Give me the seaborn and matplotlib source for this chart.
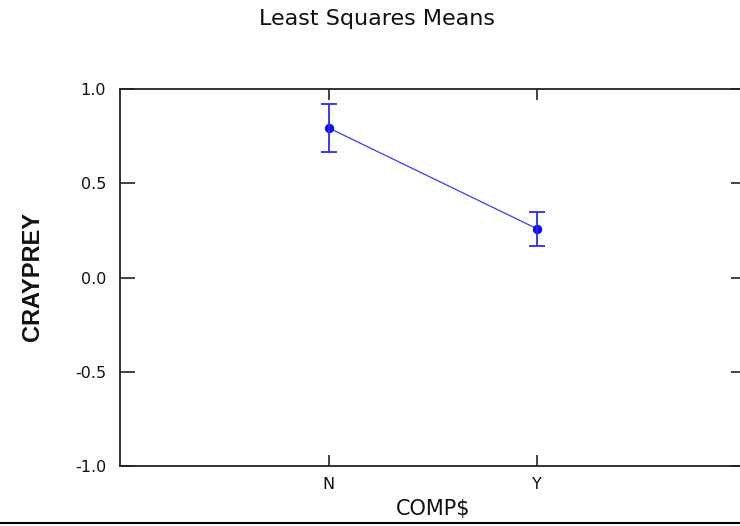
import matplotlib
matplotlib.use("Agg")
import matplotlib.pyplot as plt
import seaborn as sns
import pandas as pd
from matplotlib.lines import Line2D

categories = ["N", "Y"]
means = [0.795, 0.258]
errors = [0.128, 0.090]
y_ticks = [-1.0, -0.5, 0.0, 0.5, 1.0]
y_tick_labels = ["-1.0", "-0.5", "0.0", "0.5", "1.0"]

sns.set_theme(style="white")
plt.rcParams["font.family"] = ["DejaVu Sans"]

df = pd.DataFrame({"COMP$": categories, "CRAYPREY": means})

fig = plt.figure(figsize=(7.4, 5.26), dpi=100)
ax = fig.add_axes([120 / 740, 1 - 465.7 / 526, 626 / 740, (465.7 - 89.3) / 526])

sns.lineplot(data=df, x="COMP$", y="CRAYPREY", ax=ax, color="#3a3aff", linewidth=0.9,
             marker="o", markersize=6, markerfacecolor="#1010ee", markeredgecolor="#1010ee",
             sort=False)
ax.errorbar(categories, means, yerr=errors, fmt="none", ecolor="#2a2aff",
            elinewidth=1.3, capsize=6, capthick=1.3)

ax.set_xlim(-1, 2)
ax.set_ylim(-1.0, 1.0)
ax.set_yticks(y_ticks)
ax.set_yticklabels(y_tick_labels)

for s in ax.spines.values():
    s.set_visible(True)
    s.set_color("#222222")
    s.set_linewidth(1.3)

ax.tick_params(axis="y", direction="in", left=True, right=True, length=11, width=1.2,
               color="#222222", labelsize=11.5, pad=10, labelcolor="#111111")
ax.tick_params(axis="x", direction="in", bottom=True, top=True, length=8, width=1.2,
               color="#222222", labelsize=11.5, pad=8, labelcolor="#111111")

ax.set_xlabel("COMP$", fontsize=15, color="#111111", labelpad=5)
ax.set_ylabel("")
fig.text(33 / 740, 1 - 276 / 526, "CRAYPREY", rotation=90, ha="center", va="center",
         fontsize=17, fontweight="bold", color="#111111",
         family=["Liberation Sans Narrow", "Liberation Sans", "DejaVu Sans"])

fig.text(377 / 740, 1 - 19 / 526, "Least Squares Means", ha="center", va="center",
         fontsize=16, color="#111111")

fig.add_artist(Line2D([0, 1], [1 - 523 / 526, 1 - 523 / 526], transform=fig.transFigure,
                      color="black", linewidth=1.5))

fig.savefig("out.png", dpi=100)
